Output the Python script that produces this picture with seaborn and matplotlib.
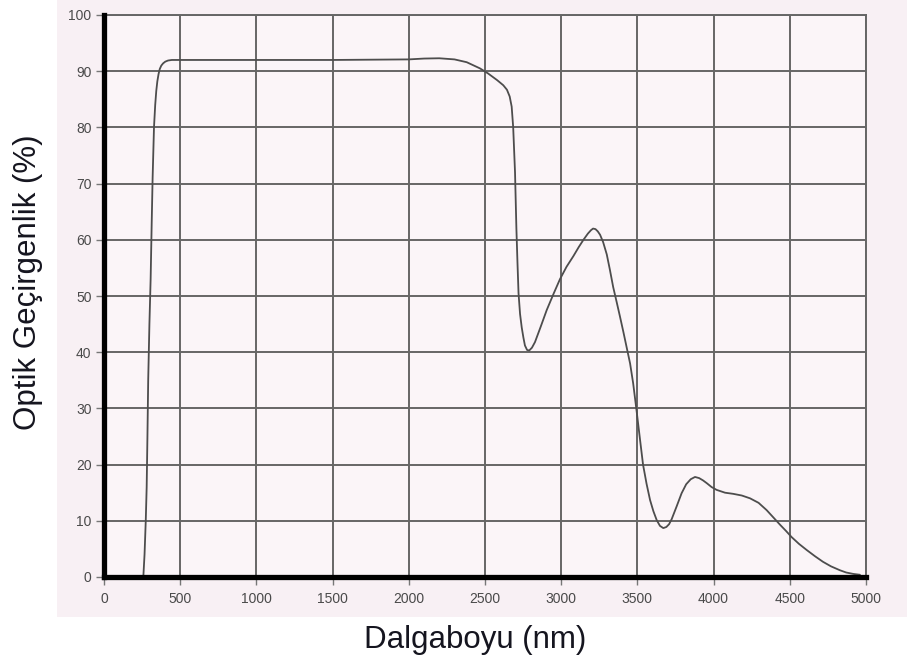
import numpy as np
import pandas as pd
import matplotlib
matplotlib.use("Agg")
import matplotlib.pyplot as plt
from matplotlib.patches import Rectangle
import seaborn as sns

# Transmission spectrum: wavelength (nm) vs optical transmittance (%)
wavelength = [258, 266, 274, 280, 285, 290, 298, 306, 313, 319, 328, 336, 343,
              350, 358, 366, 376, 388, 402, 420, 445, 480, 600, 1000, 1500,
              2000, 2100, 2200, 2300, 2380, 2467, 2520, 2580, 2620, 2644, 2662,
              2675, 2685, 2697, 2706, 2713, 2720, 2730, 2741, 2752, 2762, 2776,
              2790, 2808, 2828, 2865, 2905, 2950, 2992, 3035, 3080, 3115, 3146,
              3175, 3195, 3209, 3225, 3240, 3255, 3275, 3299, 3320, 3341, 3365,
              3386, 3408, 3430, 3452, 3472, 3495, 3517, 3537, 3560, 3583, 3605,
              3627, 3648, 3670, 3690, 3708, 3725, 3758, 3790, 3820, 3850, 3878,
              3905, 3930, 3955, 3987, 4020, 4075, 4128, 4185, 4239, 4295, 4348,
              4392, 4436, 4475, 4512, 4560, 4611, 4665, 4718, 4770, 4829, 4870,
              4916, 4960]
transmittance = [0, 4, 10, 16, 25, 35, 45, 53, 63, 71, 80, 84, 86.5,
                 88.2, 89.5, 90.4, 91.0, 91.4, 91.7, 91.9, 92.0, 92.0, 92.0, 92.0, 92.0,
                 92.1, 92.25, 92.3, 92.1, 91.6, 90.5, 89.6, 88.4, 87.5, 86.7, 85.5,
                 83.7, 80, 72, 62, 56, 50.5, 46.8, 44.4, 42.6, 41.2, 40.4,
                 40.3, 40.8, 41.8, 44.5, 47.5, 50.4, 53.0, 55.2, 57.1, 58.7, 60.0,
                 61.1, 61.7, 62.0, 61.9, 61.5, 60.9, 59.6, 57.4, 54.6, 51.6, 48.8,
                 46.3, 43.6, 40.8, 38.0, 34.5, 29.5, 24.5, 20.0, 16.6, 13.7, 11.7,
                 10.1, 9.1, 8.7, 8.9, 9.4, 10.3, 12.6, 14.9, 16.5, 17.4, 17.8,
                 17.6, 17.2, 16.7, 16.0, 15.5, 15.0, 14.8, 14.5, 14.0, 13.2, 11.9,
                 10.6, 9.3, 8.2, 7.1, 5.9, 4.8, 3.7, 2.7, 1.9, 1.2, 0.8,
                 0.55, 0.4]

x_ticks = [0, 500, 1000, 1500, 2000, 2500, 3000, 3500, 4000, 4500, 5000]
y_ticks = [0, 10, 20, 30, 40, 50, 60, 70, 80, 90, 100]

x_label = "Dalgaboyu (nm)"
y_label = "Optik Geçirgenlik (%)"

df = pd.DataFrame({"wavelength": wavelength, "T": transmittance})

sns.set_theme(style="ticks")
plt.rcParams["font.family"] = ["Liberation Sans", "DejaVu Sans"]

W, H = 907, 663
fig = plt.figure(figsize=(W / 100, H / 100), dpi=100)
fig.patch.set_facecolor("white")

# pale paper tone behind the plotting area
fig.patches.append(Rectangle((57 / W, (H - 617) / H), 1 - 57 / W, 617 / H,
                             transform=fig.transFigure, facecolor="#f8f0f4",
                             edgecolor="none", zorder=-5))

ax = fig.add_axes([104 / W, (H - 577) / H, (866 - 104) / W, (577 - 15) / H])
ax.set_zorder(2)
ax.set_facecolor("#fbf5f8")

grid_col = "#666666"
for xv in x_ticks:
    ax.axvline(xv, color=grid_col, lw=1.4, zorder=1)
for yv in y_ticks:
    ax.axhline(yv, color=grid_col, lw=1.4, zorder=1)

sns.lineplot(data=df, x="wavelength", y="T", ax=ax, color="#4d4d4d",
             lw=1.3, zorder=3)

ax.set_xlim(0, 5000)
ax.set_ylim(0, 100)
ax.set_xticks(x_ticks)
ax.set_yticks(y_ticks)
ax.set_xlabel("")
ax.set_ylabel("")

for side in ("top", "right"):
    ax.spines[side].set_color(grid_col)
    ax.spines[side].set_linewidth(1.4)
for side in ("left", "bottom"):
    ax.spines[side].set_color("black")
    ax.spines[side].set_linewidth(3.8)
    ax.spines[side].set_zorder(4)

ax.tick_params(axis="both", which="major", direction="out", length=6,
               width=1.0, color="#777777", labelsize=10, labelcolor="#4a4a4a")
ax.tick_params(axis="x", pad=5)
ax.tick_params(axis="y", pad=3)

fig.text(475 / W, 1 - 640 / H, x_label, ha="center", va="center",
         fontsize=22.5, color="#15151f")
fig.text(28 / W, 1 - 282 / H, y_label, ha="center", va="center",
         rotation=90, fontsize=22.5, color="#15151f")

fig.savefig("out.png", dpi=100)
